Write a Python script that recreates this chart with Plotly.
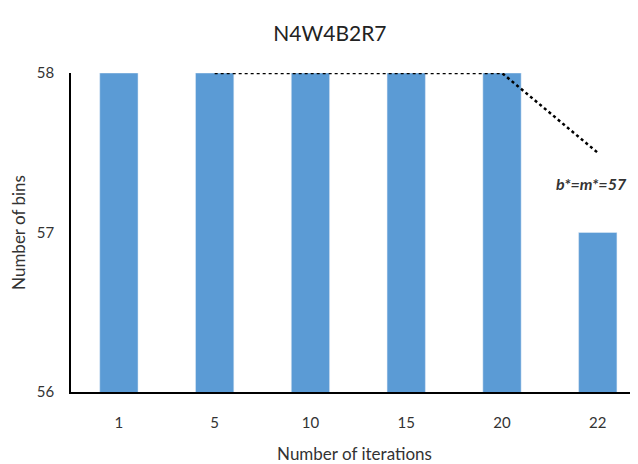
import plotly.graph_objects as go

categories = ["1", "5", "10", "15", "20", "22"]
bins = [58, 58, 58, 58, 58, 57]
trend_x = ["5", "20", "22"]
trend_y = [58, 58, 57.5]
y_ticks = [56, 57, 58]

font = "Lato, Open Sans, sans-serif"

fig = go.Figure()
fig.add_trace(go.Bar(x=categories, y=bins, marker_color="#5B9BD5", width=0.4,
                     showlegend=False))
fig.add_trace(go.Scatter(x=trend_x, y=trend_y, mode="lines",
                         line=dict(color="black", dash="dot", width=2.5),
                         showlegend=False))
fig.add_annotation(x=5, y=57.31, xref="x", yref="y", text="<b><i>b*=m*=57</i></b>",
                   showarrow=False, xshift=-6,
                   font=dict(size=16, color="#333333", family=font))

fig.update_layout(
    width=630, height=456,
    margin=dict(l=63, r=0, t=65, b=72),
    plot_bgcolor="white", paper_bgcolor="white",
    title=dict(text="N4W4B2R7", x=0.511, xanchor="center", yref="container",
               yanchor="middle", font=dict(size=21, color="#222222", family=font)),
    font=dict(family=font, color="#333333"),
)
fig.update_layout(title_y=1 - 26/456)
fig.update_xaxes(type="category", range=[-0.5, 5.42], showline=True, linecolor="black",
                 linewidth=1.5, ticks="", tickfont=dict(size=15),
                 ticklabelstandoff=16,
                 title=dict(text="Number of iterations", font=dict(size=17), standoff=22))
fig.update_yaxes(range=[56, 58], tickvals=y_ticks, showline=True, linecolor="black",
                 linewidth=1.5, showgrid=False, zeroline=False, ticks="",
                 tickfont=dict(size=15), ticklabelstandoff=12,
                 title=dict(text="Number of bins", font=dict(size=17), standoff=8))

fig.write_html("out.html")
